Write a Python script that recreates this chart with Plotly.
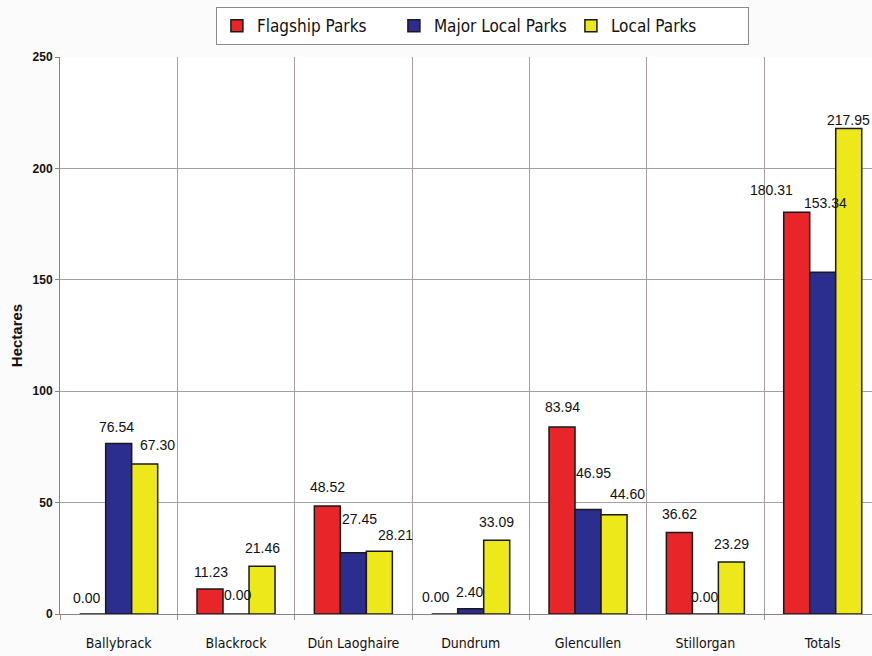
import plotly.graph_objects as go

areas = ["Ballybrack", "Blackrock", "Dún Laoghaire", "Dundrum", "Glencullen", "Stillorgan", "Totals"]
flagship = [0.00, 11.23, 48.52, 0.00, 83.94, 36.62, 180.31]
major_local = [76.54, 0.00, 27.45, 2.40, 46.95, 0.00, 153.34]
local = [67.30, 21.46, 28.21, 33.09, 44.60, 23.29, 217.95]

series_names = ["Flagship Parks", "Major Local Parks", "Local Parks"]
series_values = [flagship, major_local, local]
series_colors = ["#e8262a", "#2b2e8f", "#ece81a"]

# Value-label nudges in pixels (dx, dy above the bar top), per series and area,
# so that neighbouring labels do not collide.
label_nudges = [
    [(-6, 16), (1, 17), (0, 19), (-9, 17), (0, 20), (0, 18), (-25, 22)],
    [(-2, 16), (1, 19), (6, 34), (-1, 17), (5, 36), (-1, 17), (3, 69)],
    [(13, 19), (0, 18), (16, 16), (0, 18), (13, 21), (0, 18), (0, 8)],
]

NARROW = "DejaVu Sans Condensed, Liberation Sans Narrow, Liberation Sans, sans-serif"
REGULAR = "Liberation Sans, Arial, sans-serif"
BARGAP = 0.335
bar_w = (1 - BARGAP) / len(series_names)

fig = go.Figure()
for k, (name, vals, color) in enumerate(zip(series_names, series_values, series_colors)):
    fig.add_trace(go.Bar(
        x=areas, y=vals, name=name,
        marker=dict(color=color, line=dict(color="#1a1a1a", width=1.5)),
        cliponaxis=False,
    ))
    offset = (k - (len(series_names) - 1) / 2) * bar_w
    for i, v in enumerate(vals):
        dx, dy = label_nudges[k][i]
        fig.add_annotation(
            x=i + offset, y=v, xref="x", yref="y",
            text=f"{v:.2f}", showarrow=False,
            xanchor="center", yanchor="middle",
            xshift=dx, yshift=dy,
            font=dict(family=REGULAR, size=14, color="#111"),
        )

fig.update_layout(
    width=872, height=656,
    margin=dict(l=60, r=0, t=57, b=42),
    paper_bgcolor="#fbfbfb",
    plot_bgcolor="white",
    barmode="group",
    bargap=BARGAP,
    bargroupgap=0,
    showlegend=True,
    legend=dict(
        orientation="h", x=0.192, xanchor="left",
        yref="container", y=0.989, yanchor="top",
        bordercolor="#8a8a8a", borderwidth=1, bgcolor="white",
        font=dict(family=NARROW, size=17, color="#111"),
        itemwidth=30, entrywidth=132,
    ),
    font=dict(family=REGULAR, color="#111"),
)

fig.update_xaxes(
    range=[-0.5, 6.42],
    tickson="boundaries",
    ticks="outside", ticklen=5, tickcolor="#9a9090",
    ticklabelstandoff=16,
    showgrid=True, gridcolor="#a89e9e", gridwidth=1,
    showline=True, linecolor="#8a8080", linewidth=1,
    tickfont=dict(family=NARROW, size=14, color="#111"),
)
fig.update_yaxes(
    range=[0, 250], dtick=50,
    showgrid=True, gridcolor="#a89e9e", gridwidth=1,
    showline=True, linecolor="#8a8080", linewidth=1,
    ticks="outside", ticklen=4, tickcolor="#8a8080",
    zeroline=False,
    tickfont=dict(family=REGULAR, size=12, color="#111", weight="bold"),
    title=dict(text="Hectares", font=dict(family=REGULAR, size=15, color="#111", weight="bold"), standoff=6),
)

fig.write_html("out.html")
